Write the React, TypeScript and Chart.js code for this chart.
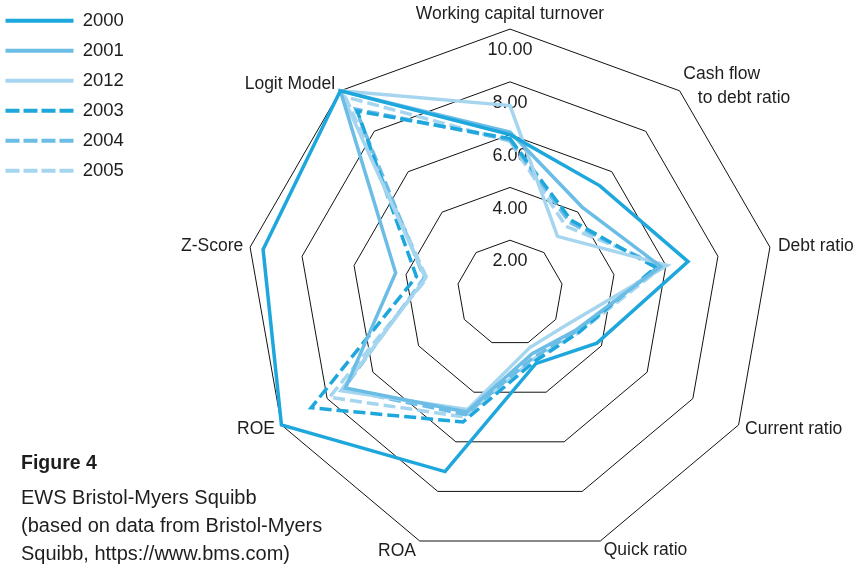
import React, { useEffect, useRef } from 'react';
import { Chart, registerables } from 'chart.js';

Chart.register(...registerables);

// ---------- data ----------
const CATEGORIES: (string | string[])[] = [
  'Working capital turnover',
  ['    Cash flow', '       to debt ratio'],
  'Debt ratio',
  'Current ratio',
  'Quick ratio',
  'ROA',
  'ROE',
  'Z-Score',
  'Logit Model',
];

const SERIES_NAMES = ['2000', '2001', '2012', '2003', '2004', '2005'];

const Y2000 = [6.0, 5.3, 6.85, 3.8, 2.85, 7.2, 10.0, 9.5, 10.0];
const Y2001 = [6.1, 4.25, 5.8, 2.85, 2.45, 4.8, 7.2, 4.4, 10.0];
const Y2012 = [7.1, 2.8, 6.05, 2.45, 2.2, 4.7, 7.4, 3.25, 10.0];
const Y2003 = [5.85, 3.6, 5.6, 3.0, 2.75, 5.2, 8.7, 3.6, 9.0];
const Y2004 = [5.8, 3.5, 5.7, 2.9, 2.6, 4.9, 7.3, 3.3, 9.1];
const Y2005 = [5.75, 3.3, 5.9, 3.0, 2.65, 5.0, 7.9, 3.2, 9.7];

const SCALE_MIN = 0;
const SCALE_MAX = 10;
const SCALE_STEP = 2;

// ---------- styles ----------
const FONT = '"Liberation Sans", Arial, Helvetica, sans-serif';
const DARK = '#1ea7dc';
const MID = '#6cbde6';
const LIGHT = '#a6d6ef';
const TEXT = '#1e1e1e';
const DASH = [12, 5];
const LEGEND_DASH = [14, 4];
const LINE_W = 3.5;
const LEGEND_W = 146;
const LABEL_PAD = [5.9, -33.6, -0.9, -1.5, 1, 2, -1.5, -2, -0.9];

const SERIES_VALUES = [Y2000, Y2001, Y2012, Y2003, Y2004, Y2005];
const SERIES_COLORS = [DARK, MID, LIGHT, DARK, MID, LIGHT];
const SERIES_DASHED = [false, false, false, true, true, true];

const legendWidthPlugin = {
  id: 'legendWidthFix',
  beforeInit(chart: any) {
    const legend = chart.legend;
    if (!legend) return;
    const orig = legend.fit;
    legend.fit = function () {
      orig.call(this);
      this.width = LEGEND_W;
    };
  },
};

export default function App() {
  const ref = useRef<HTMLCanvasElement>(null);

  useEffect(() => {
    document.body.style.margin = '0';
    Chart.defaults.font.family = FONT;
    const canvas = ref.current;
    if (!canvas) return;

    const datasets = SERIES_NAMES.map((name, i) => ({
      label: name,
      data: SERIES_VALUES[i],
      borderColor: SERIES_COLORS[i],
      backgroundColor: SERIES_COLORS[i],
      borderWidth: LINE_W,
      borderDash: SERIES_DASHED[i] ? DASH : [],
      borderCapStyle: 'butt' as const,
      borderJoinStyle: 'miter' as const,
      fill: false,
      pointRadius: 0,
      pointHoverRadius: 0,
      pointHitRadius: 0,
      tension: 0,
    }));

    const defaultGen = (Chart.defaults as any).plugins.legend.labels.generateLabels;

    const chart = new Chart(canvas, {
      type: 'radar',
      data: { labels: CATEGORIES as any, datasets },
      options: {
        responsive: false,
        animation: false,
        layout: { padding: { left: 0, right: 20, top: 0, bottom: 31 } },
        plugins: {
          title: {
            display: true,
            text: '',
            position: 'top',
            fullSize: false,
            padding: { top: 0, bottom: 10 },
            font: { size: 1, lineHeight: 1 },
          },
          legend: {
            position: 'left',
            align: 'start',
            labels: {
              usePointStyle: true,
              pointStyle: 'line',
              pointStyleWidth: 68,
              padding: 11.5,
              color: TEXT,
              font: { family: FONT, size: 18.5 },
              generateLabels: (c: any) => {
                const items = defaultGen(c);
                items.forEach((it: any) => {
                  it.lineDash = SERIES_DASHED[it.datasetIndex] ? LEGEND_DASH : [];
                  it.lineWidth = 4;
                  it.strokeStyle = SERIES_COLORS[it.datasetIndex];
                  it.fillStyle = SERIES_COLORS[it.datasetIndex];
                  it.lineCap = 'butt';
                  it.pointStyle = 'line';
                  it.rotation = 0;
                });
                return items;
              },
            },
          },
          tooltip: { enabled: false },
        },
        scales: {
          r: {
            min: SCALE_MIN,
            max: SCALE_MAX,
            angleLines: { display: false },
            grid: { color: '#111111', lineWidth: 1, circular: false },
            ticks: {
              stepSize: SCALE_STEP,
              showLabelBackdrop: false,
              backdropPadding: 0,
              color: TEXT,
              font: { family: FONT, size: 18, lineHeight: 1.18 },
              callback: (v: any) => ['', Number(v).toFixed(2)],
            },
            pointLabels: {
              display: true,
              color: TEXT,
              font: ((ctx: any) => ({
                family: FONT,
                size: 17.5,
                lineHeight: ctx.index === 1 ? 1.34 : 0.01,
              })) as any,
              padding: ((ctx: any) => LABEL_PAD[ctx.index]) as any,
            },
          },
        },
      },
      plugins: [legendWidthPlugin],
    } as any);

    return () => chart.destroy();
  }, []);

  const cap: React.CSSProperties = {
    position: 'absolute',
    left: 21,
    fontFamily: FONT,
    fontSize: 20,
    lineHeight: '28px',
    color: TEXT,
    whiteSpace: 'nowrap',
  };

  return (
    <div
      style={{
        position: 'fixed',
        left: 0,
        top: 0,
        width: 858,
        height: 564,
        overflow: 'hidden',
        background: '#ffffff',
      }}
    >
      <div style={{ position: 'absolute', left: -6, top: 0, width: 906, height: 600 }}>
        <canvas ref={ref} width={906} height={600} style={{ width: 906, height: 600, display: 'block' }} />
      </div>
      <div style={{ ...cap, top: 448, fontWeight: 'bold', fontSize: 19.5 }}>Figure 4</div>
      <div style={{ ...cap, top: 483 }}>EWS Bristol-Myers Squibb</div>
      <div style={{ ...cap, top: 511 }}>(based on data from Bristol-Myers</div>
      <div style={{ ...cap, top: 539 }}>Squibb, https://www.bms.com)</div>
    </div>
  );
}
